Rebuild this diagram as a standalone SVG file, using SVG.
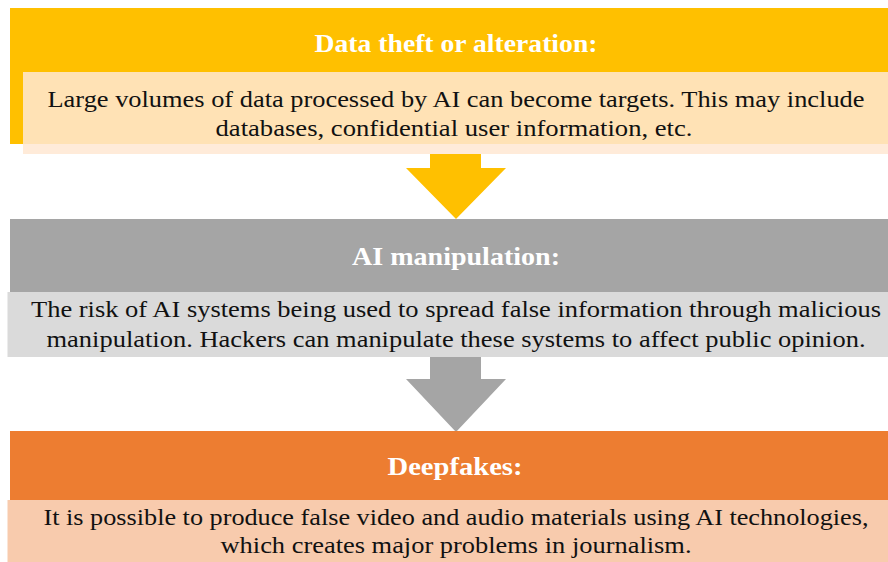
<svg xmlns="http://www.w3.org/2000/svg" width="888" height="562" viewBox="0 0 888 562">
  <style>
    .title { font-family: "Liberation Serif", "Times New Roman", serif; font-size: 26px; font-weight: bold; fill: #ffffff; }
    .body { font-family: "Liberation Serif", "Times New Roman", serif; font-size: 24px; fill: #111111; }
  </style>
  <rect width="888" height="562" fill="#ffffff"/>

  <!-- connectors: block arrows between the stages -->
  <g id="connectors">
    <polygon points="430,144 481,144 481,168 506,168 456,219 406,168 430,168" fill="#FFC000"/>
    <rect x="430" y="144" width="51" height="10" fill="#FFE6A8"/>
    <polygon points="430,357 481,357 481,379 506,379 456,432 406,379 430,379" fill="#A5A5A5"/>
  </g>

  <g id="data-theft">
    <rect x="10" y="8" width="878" height="136" fill="#FFC000"/>
    <rect x="23" y="72" width="865" height="72" fill="#FFE2B5"/>
    <rect x="23" y="144" width="865" height="10" fill="#FFEBD9"/>
    <text class="title" x="456" y="52" text-anchor="middle" textLength="283" lengthAdjust="spacingAndGlyphs">Data theft or alteration:</text>
    <text class="body" x="456" y="107" text-anchor="middle" textLength="817" lengthAdjust="spacingAndGlyphs">Large volumes of data processed by AI can become targets. This may include</text>
    <text class="body" x="454" y="136" text-anchor="middle" textLength="477" lengthAdjust="spacingAndGlyphs">databases, confidential user information, etc.</text>
  </g>

  <g id="ai-manipulation">
    <rect x="10" y="219" width="878" height="73" fill="#A5A5A5"/>
    <rect x="7.5" y="292" width="880.5" height="65" fill="#DADADA"/>
    <text class="title" x="456" y="265" text-anchor="middle" textLength="208" lengthAdjust="spacingAndGlyphs">AI manipulation:</text>
    <text class="body" x="456" y="317" text-anchor="middle" textLength="850" lengthAdjust="spacingAndGlyphs">The risk of AI systems being used to spread false information through malicious</text>
    <text class="body" x="456" y="347" text-anchor="middle" textLength="819" lengthAdjust="spacingAndGlyphs">manipulation. Hackers can manipulate these systems to affect public opinion.</text>
  </g>

  <g id="deepfakes">
    <rect x="10" y="431" width="878" height="69" fill="#ED7D31"/>
    <rect x="7.5" y="500" width="880.5" height="62" fill="#F8CBAD"/>
    <text class="title" x="455" y="475" text-anchor="middle" textLength="135" lengthAdjust="spacingAndGlyphs">Deepfakes:</text>
    <text class="body" x="456" y="525" text-anchor="middle" textLength="825" lengthAdjust="spacingAndGlyphs">It is possible to produce false video and audio materials using AI technologies,</text>
    <text class="body" x="456" y="553" text-anchor="middle" textLength="471" lengthAdjust="spacingAndGlyphs">which creates major problems in journalism.</text>
  </g>
</svg>
